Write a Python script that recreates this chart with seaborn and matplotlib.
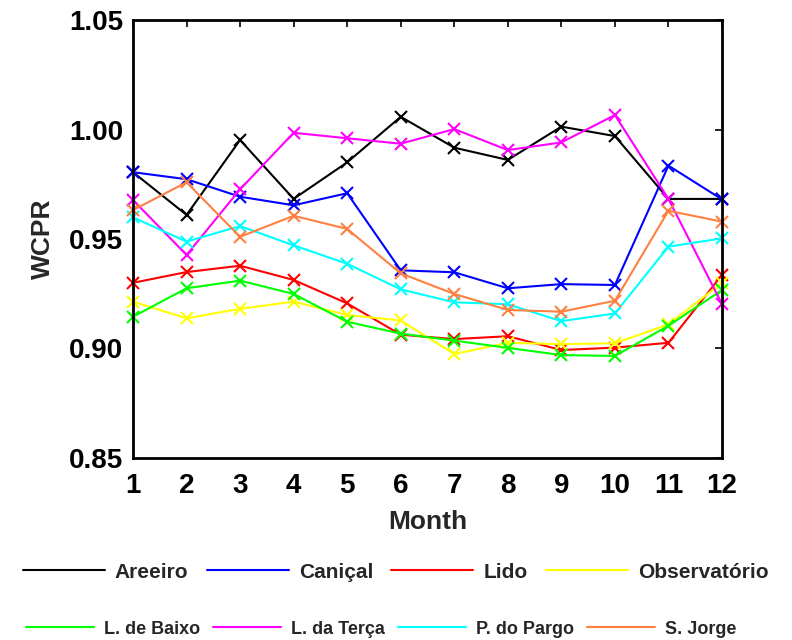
import numpy as np
import pandas as pd
import matplotlib
matplotlib.use("Agg")
import matplotlib.pyplot as plt
import seaborn as sns
from matplotlib.lines import Line2D

months = list(range(1, 13))

areeiro = [0.9805, 0.9610, 0.9952, 0.9683, 0.9850, 1.0058, 0.9917, 0.9861, 1.0013, 0.9970, 0.9683, 0.9683]
canical = [0.9805, 0.9773, 0.9693, 0.9654, 0.9709, 0.9357, 0.9348, 0.9275, 0.9294, 0.9290, 0.9835, 0.9681]
lido = [0.9300, 0.9349, 0.9378, 0.9313, 0.9206, 0.9063, 0.9043, 0.9056, 0.8993, 0.9004, 0.9026, 0.9336]
observatorio = [0.9214, 0.9138, 0.9181, 0.9214, 0.9153, 0.9128, 0.8975, 0.9026, 0.9020, 0.9024, 0.9110, 0.9300]
l_de_baixo = [0.9145, 0.9275, 0.9310, 0.9249, 0.9122, 0.9068, 0.9036, 0.9003, 0.8970, 0.8966, 0.9104, 0.9267]
l_da_terca = [0.9678, 0.9427, 0.9727, 0.9985, 0.9960, 0.9935, 1.0002, 0.9906, 0.9941, 1.0066, 0.9683, 0.9203]
p_do_pargo = [0.9599, 0.9488, 0.9559, 0.9471, 0.9387, 0.9270, 0.9211, 0.9202, 0.9125, 0.9160, 0.9465, 0.9503]
s_jorge = [0.9632, 0.9759, 0.9510, 0.9606, 0.9546, 0.9343, 0.9249, 0.9176, 0.9168, 0.9218, 0.9629, 0.9579]

series_names = ["Areeiro", "Caniçal", "Lido", "Observatório",
                "L. de Baixo", "L. da Terça", "P. do Pargo", "S. Jorge"]
series_values = [areeiro, canical, lido, observatorio,
                 l_de_baixo, l_da_terca, p_do_pargo, s_jorge]
colors = ["#000000", "#0000ff", "#ff0000", "#ffff00",
          "#00ff00", "#ff00ff", "#00ffff", "#ff8040"]
yticks = [0.85, 0.90, 0.95, 1.00, 1.05]

sns.set_theme(style="white")
plt.rcParams['font.family'] = ['Liberation Sans', 'DejaVu Sans']
plt.rcParams['font.weight'] = 'bold'

fig = plt.figure(figsize=(7.92, 6.4), dpi=100)
ax = fig.add_axes([133/792, 1-458/640, 589/792, 438/640])

for name, vals, col in zip(series_names, series_values, colors):
    df = pd.DataFrame({"Month": months, "WCPR": vals})
    sns.lineplot(data=df, x="Month", y="WCPR", ax=ax, color=col,
                 linewidth=1.5, marker="x", markersize=9,
                 markeredgecolor=col, markeredgewidth=1.5, clip_on=False)

ax.set_xlim(1, 12)
ax.set_ylim(0.85, 1.05)
ax.set_xticks(months)
ax.set_xticklabels([str(m) for m in months])
ax.set_yticks(yticks)
ax.set_yticklabels([f"{v:.2f}" for v in yticks])
ax.tick_params(direction="in", length=5, width=1.2, top=True, right=True,
               labelsize=20, colors="black")
ax.tick_params(axis="x", pad=11)
ax.tick_params(axis="y", pad=7)
for lab in ax.get_xticklabels() + ax.get_yticklabels():
    lab.set_fontweight("bold")
for sp in ax.spines.values():
    sp.set_linewidth(2)
    sp.set_color("black")
ax.set_xlabel("Month", fontsize=19, fontweight="bold", labelpad=8)
ax.set_ylabel("WCPR", fontsize=19, fontweight="bold", labelpad=10)

handles = [Line2D([0], [0], color=c, linewidth=1.5) for c in colors]
prop1 = {"weight": "bold", "size": 15}
prop2 = {"weight": "bold", "size": 13}
leg1 = fig.legend(handles[:4], series_names[:4], loc="center",
                  bbox_to_anchor=(0.4994, 1-572/640), ncol=4, frameon=False,
                  handlelength=3.94, handletextpad=0.48, columnspacing=0.87,
                  prop=prop1, borderaxespad=0, borderpad=0)
leg2 = fig.legend(handles[4:], series_names[4:], loc="center",
                  bbox_to_anchor=(0.481, 1-629/640), ncol=4, frameon=False,
                  handlelength=3.77, handletextpad=0.55, columnspacing=0.72,
                  prop=prop2, borderaxespad=0, borderpad=0)

fig.savefig("out.png", dpi=100)
